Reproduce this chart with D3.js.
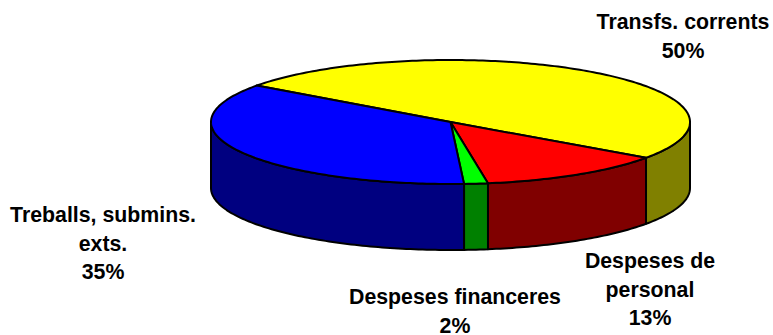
<!DOCTYPE html>
<html><head><meta charset="utf-8">
<script src="https://cdn.jsdelivr.net/npm/d3@7/dist/d3.min.js"></script>
<style>html,body{margin:0;padding:0;background:#fff}svg{display:block}
text{font-family:"Liberation Sans",Arial,sans-serif;font-weight:bold;font-size:21.3px;fill:#000;text-anchor:middle}</style>
</head><body><svg id="c" width="773" height="335"></svg>
<script>
const categories=["Transfs. corrents","Despeses de personal","Despeses financeres","Treballs, submins. exts."];
const values=[49.8,12.7,1.6,35.9];
const topColors=["#ffff00","#ff0000","#00ff00","#0000ff"];
const sideColors=["#808000","#800000","#008000","#000080"];
const labelLines=[["Transfs. corrents","50%"],["Despeses de","personal","13%"],["Despeses financeres","2%"],["Treballs, submins.","exts.","35%"]];
const labelAnchors=[[683,29],[650,268],[455,304],[103,222]];
const lineGap=28.5;

const x=d3.scaleLinear().domain([-1,1]).range([211,690]);
const y=d3.scaleLinear().domain([-1,1]).range([60,184]);
const depth=66;
const svg=d3.select("#c");
const rad=d=>d*Math.PI/180;
const pie=d3.pie().sort(null).startAngle(rad(-54)).endAngle(rad(306));
const arcs=pie(values);
const px=a=>x(Math.sin(a)), py=a=>y(-Math.cos(a));
const line=d3.line();
function samples(a0,a1){const n=Math.max(2,Math.ceil(Math.abs(a1-a0)/rad(1)));return d3.range(n+1).map(i=>a0+(a1-a0)*i/n);}

arcs.forEach((d,i)=>{
  const a0=Math.max(d.startAngle,rad(90)),a1=Math.min(d.endAngle,rad(270));
  if(a1<=a0)return;
  const s=samples(a0,a1);
  const pts=s.map(a=>[px(a),py(a)]).concat(s.slice().reverse().map(a=>[px(a),py(a)+depth]));
  svg.append("path").attr("d",line(pts)+"Z").attr("fill",sideColors[i]).attr("stroke","#000").attr("stroke-width",2).attr("stroke-linejoin","round");
});
arcs.forEach((d,i)=>{
  const pts=[[x(0),y(0)]].concat(samples(d.startAngle,d.endAngle).map(a=>[px(a),py(a)]));
  svg.append("path").attr("d",line(pts)+"Z").attr("fill",topColors[i]).attr("stroke","#000").attr("stroke-width",2).attr("stroke-linejoin","round");
});
labelLines.forEach((ls,i)=>{
  const t=svg.append("text").attr("x",labelAnchors[i][0]).attr("y",labelAnchors[i][1]);
  ls.forEach((l,j)=>t.append("tspan").attr("x",labelAnchors[i][0]).attr("dy",j?lineGap:0).text(l));
});
</script></body></html>
